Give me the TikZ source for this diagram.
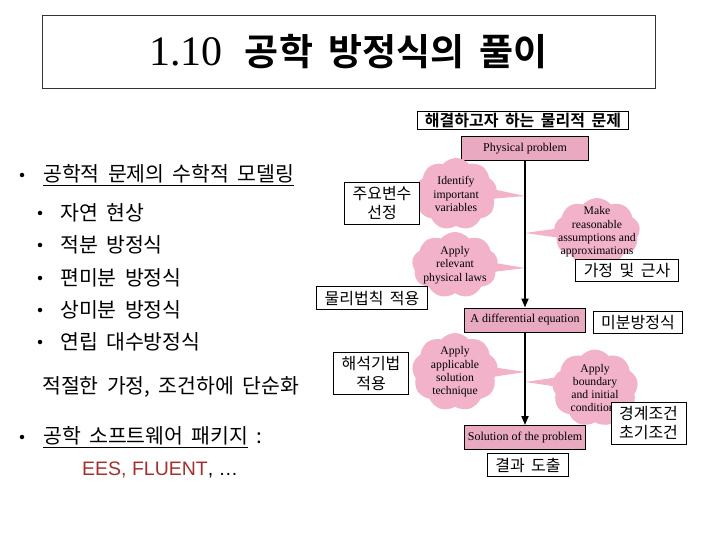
\documentclass[tikz,border=0pt]{standalone}
\usepackage{fontspec}
\setmainfont{Liberation Serif}
\setsansfont{Liberation Sans}
\newfontfamily\kor{Noto Sans CJK KR}[WordSpace=1.8,BoldFont={Noto Sans CJK KR Bold}]
\usetikzlibrary{arrows.meta,positioning,calc,shapes.symbols,backgrounds}
\definecolor{bubblepink}{HTML}{F2B3CA}
\definecolor{boxpink}{HTML}{E9A9C0}
\definecolor{eesred}{HTML}{A3302F}
\tikzset{
  titlebox/.style={draw=black!80, line width=0.8pt, minimum width=613pt, minimum height=73pt, font=\fontsize{42}{46}\selectfont},
  headbox/.style={draw=black, line width=1pt, inner xsep=7pt, inner ysep=2pt, font=\kor\bfseries\fontsize{16}{18}\selectfont},
  flowbox/.style={draw=black, line width=1pt, fill=boxpink, minimum height=24pt, font=\fontsize{12}{14}\selectfont},
  bubble/.style={cloud, cloud puffs=9, cloud puff arc=100, fill=bubblepink, draw=none, inner sep=0pt},
  bubbletext/.style={align=center, font=\fontsize{11.7}{13.3}\selectfont, inner sep=0pt},
  tail/.style={fill=bubblepink, draw=none},
  korbox/.style={draw=black, line width=0.8pt, fill=white, align=center, inner xsep=8pt, inner ysep=4pt, font=\kor\fontsize{16}{19.5}\selectfont},
  flow/.style={-{Triangle[length=9pt,width=7pt]}, line width=1.8pt},
  bulletdot/.style={circle, fill=black, inner sep=0pt, minimum size=4.5pt},
  listitem/.style={anchor=west, inner sep=0pt, font=\kor\fontsize{20.5}{24}\selectfont},
}
\def\xF{525}
\begin{document}
\begin{tikzpicture}[x=1pt,y=-1pt]
  \useasboundingbox (0,0) rectangle (720,540);
  \node[titlebox] (title) at (348.5,51.5) {1.10\hspace{22pt}{\kor\bfseries\fontsize{37}{40}\selectfont 공학 방정식의 풀이}};
  \node[headbox] (head) at (523,120.5) {해결하고자 하는 물리적 문제};
  % main flow
  \node[flowbox, minimum width=127pt] (pp) at (\xF,148.5) {Physical problem};
  \node[flowbox, minimum width=121pt] (de) at (\xF,320) {A differential equation};
  \node[flowbox, minimum width=121pt] (sp) at (\xF,437.5) {Solution of the problem};
  \node[bubble, minimum width=82pt, minimum height=72pt, label={[bubbletext]center:Identify\\important\\variables}] (c1) at (456,194) {};
  \node[bubble, minimum width=86pt, minimum height=68pt, label={[bubbletext]center:Make\\reasonable\\assumptions and\\approximations}] (c2) at (597,232) {};
  \node[bubble, minimum width=86pt, minimum height=66pt, label={[bubbletext]center:Apply\\relevant\\physical laws}] (c3) at (455,265) {};
  \node[bubble, minimum width=86pt, minimum height=78pt, label={[bubbletext]center:Apply\\applicable\\solution\\technique}] (c4) at (455,372) {};
  \node[bubble, minimum width=86pt, minimum height=77pt, label={[bubbletext]center:Apply\\boundary\\and initial\\conditions}] (c5) at (595,388) {};
  \coordinate (t1) at (\xF,196);
  \coordinate (t2) at (\xF,233);
  \coordinate (t3) at (\xF,268);
  \coordinate (t4) at (\xF,372);
  \coordinate (t5) at (\xF,382);
  \begin{scope}[on background layer]
    \fill[tail] ($(c1.center)+(22,-8)$) -- ($(c1.center)+(22,6)$) -- (t1) -- cycle;
    \fill[tail] ($(c2.center)+(-22,-6)$) -- ($(c2.center)+(-22,8)$) -- (t2) -- cycle;
    \fill[tail] ($(c3.center)+(22,-5)$) -- ($(c3.center)+(22,9)$) -- (t3) -- cycle;
    \fill[tail] ($(c4.center)+(24,-7)$) -- ($(c4.center)+(24,7)$) -- (t4) -- cycle;
    \fill[tail] ($(c5.center)+(-22,-13)$) -- ($(c5.center)+(-22,1)$) -- (t5) -- cycle;
  \end{scope}
  \draw[flow] (pp) -- (de);
  \draw[flow] (de) -- (sp);
  % korean notes
  \node[korbox] (k1) at (382,203) {주요변수\\선정};
  \node[korbox] (k2) at (627,270.5) {가정 및 근사};
  \node[korbox] (k3) at (372,298) {물리법칙 적용};
  \node[korbox] (k4) at (638,322.5) {미분방정식};
  \node[korbox] (k5) at (371,373.5) {해석기법\\적용};
  \node[korbox] (k6) at (648.5,423) {경계조건\\초기조건};
  \node[korbox] (k7) at (528,465) {결과 도출};
  % left list
  \node[bulletdot] (b1) at (22,175) {};
  \node[listitem] (m1) at (43,175) {\underline{공학적 문제의 수학적 모델링}};
  \foreach \y/\txt [count=\i] in {213/자연 현상, 245/적분 방정식, 278/편미분 방정식, 310/상미분 방정식, 342/연립 대수방정식} {
    \node[bulletdot] (sb\i) at (40,\y) {};
    \node[listitem] (s\i) at (60,\y) {\txt};
  }
  \node[listitem] (simp) at (42,387) {적절한 가정, 조건하에 단순화};
  \node[bulletdot] (b2) at (22,437) {};
  \node[listitem] (m2) at (43,437) {\underline{공학 소프트웨어 패키지}\ :};
  \node[listitem, font=\sffamily\fontsize{19.5}{23}\selectfont] (pkg) at (82,470) {\textcolor{eesred}{EES, FLUENT}, \dots};
\end{tikzpicture}
\end{document}
